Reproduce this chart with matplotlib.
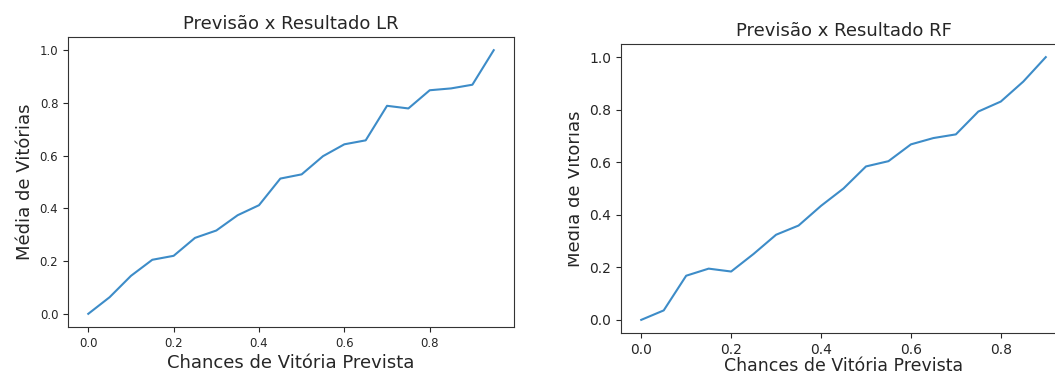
import matplotlib
matplotlib.use("Agg")
import matplotlib.pyplot as plt
from matplotlib.patches import Rectangle

# chances de vitoria prevista (bins)
x_lr = [0.00, 0.05, 0.10, 0.15, 0.20, 0.25, 0.30, 0.35, 0.40, 0.45,
        0.50, 0.55, 0.60, 0.65, 0.70, 0.75, 0.80, 0.85, 0.90, 0.95]
y_lr = [0.000, 0.063, 0.144, 0.205, 0.220, 0.288, 0.316, 0.374, 0.412, 0.513,
        0.529, 0.598, 0.643, 0.658, 0.789, 0.779, 0.848, 0.855, 0.869, 1.000]

x_rf = [0.00, 0.05, 0.10, 0.15, 0.20, 0.25, 0.30, 0.35, 0.40, 0.45,
        0.50, 0.55, 0.60, 0.65, 0.70, 0.75, 0.80, 0.85, 0.90]
y_rf = [0.000, 0.036, 0.168, 0.195, 0.184, 0.251, 0.324, 0.359, 0.434, 0.500,
        0.584, 0.604, 0.668, 0.692, 0.706, 0.793, 0.831, 0.907, 1.000]

ticks = [0.0, 0.2, 0.4, 0.6, 0.8]

txt = '#262626'
line_color = '#3d8cc8'

W, H = 1055, 376
fig = plt.figure(figsize=(W / 100, H / 100), dpi=100)

def px_axes(x0, y0, x1, y1):
    # pixel box (top-left origin) -> figure fraction
    return fig.add_axes([x0 / W, 1 - y1 / H, (x1 - x0) / W, (y1 - y0) / H])

# left: LR (smaller screenshot)
ax1 = px_axes(68, 37, 514, 327)
ax1.plot(x_lr, y_lr, color=line_color, lw=1.5)
ax1.set_xticks(ticks)
ax1.set_yticks([0.0, 0.2, 0.4, 0.6, 0.8, 1.0])
ax1.tick_params(labelsize=8.5, colors=txt)
ax1.set_title('Previsão x Resultado LR', fontsize=13, color=txt)
ax1.set_xlabel('Chances de Vitória Prevista', fontsize=13, color=txt, labelpad=3)
ax1.set_ylabel('Média de Vitórias', fontsize=13, color=txt)

# right: RF (cropped at the right edge)
ax2 = px_axes(621, 44, 1066, 333)
ax2.plot(x_rf, y_rf, color=line_color, lw=1.5)
ax2.set_xticks(ticks)
ax2.set_yticks([0.0, 0.2, 0.4, 0.6, 0.8, 1.0])
ax2.tick_params(labelsize=10, colors=txt)
ax2.set_title('Previsão x Resultado RF', fontsize=13, color=txt)
ax2.set_xlabel('Chances de Vitória Prevista', fontsize=12.5, color=txt, labelpad=0)
ax2.set_ylabel('Média de Vitórias', fontsize=13, color=txt)

for ax in (ax1, ax2):
    for s in ax.spines.values():
        s.set_color('#333333')

# the screenshot cuts the right ylabel a bit
fig.patches.append(Rectangle((530 / W, 0), (568 - 530) / W, 1, transform=fig.transFigure,
                             facecolor='white', edgecolor='none', zorder=10))

fig.savefig('out.png', dpi=100)
